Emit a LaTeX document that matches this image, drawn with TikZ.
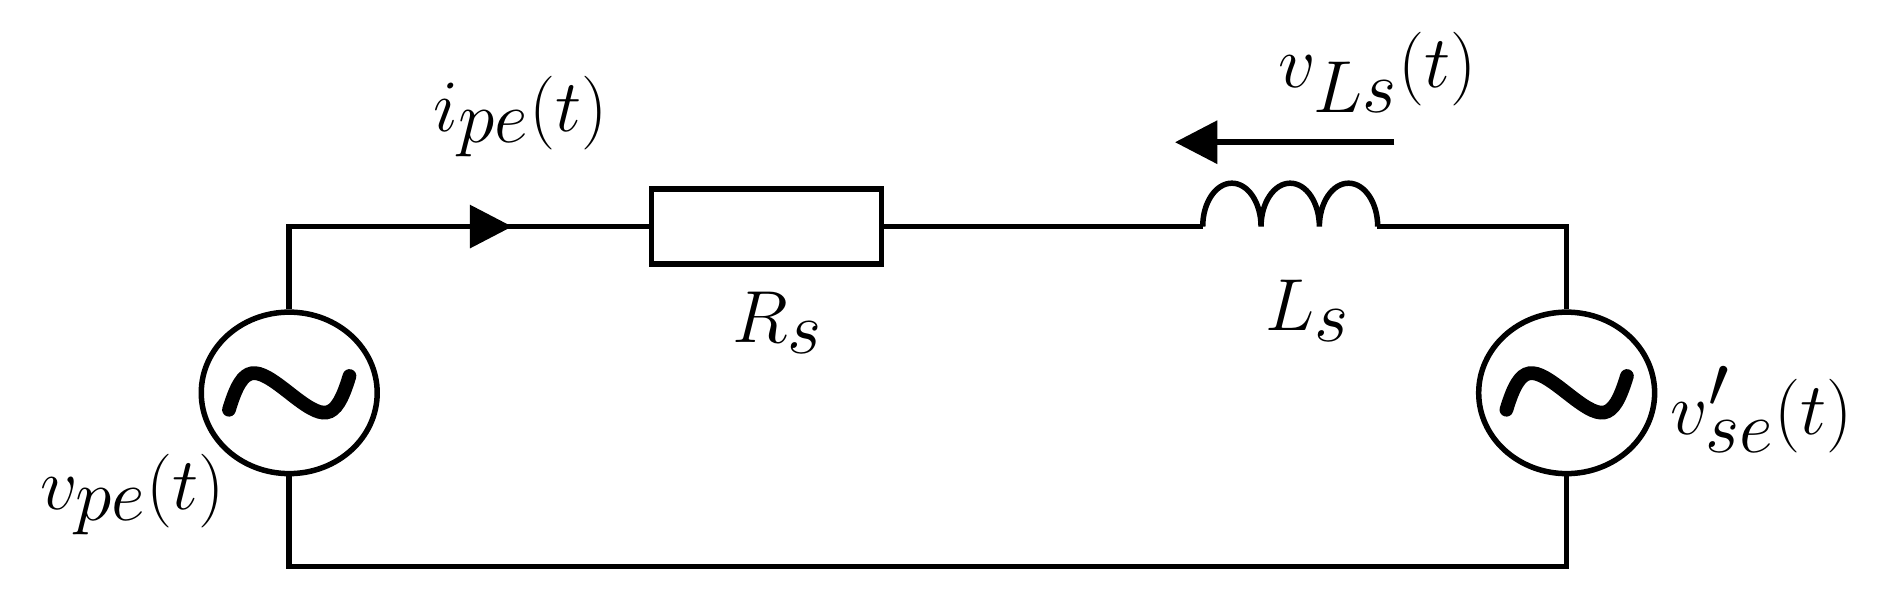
\documentclass[tikz,border=0pt]{standalone}
\usetikzlibrary{arrows.meta,shapes.geometric}
\begin{document}
\begin{tikzpicture}[x=0.02cm,y=-0.02cm,line width=2.6pt,
  lbl/.style={inner sep=0pt,scale=1.4,font=\fontsize{34}{40}\selectfont},
  src/.style={draw,ellipse,minimum width=146*0.02cm,minimum height=134*0.02cm,inner sep=0pt},
  tri/.style={-{Triangle[length=20pt,width=20pt]}}]
\useasboundingbox (0,0) rectangle (1560,501);
\node[src] (S1) at (240,326) {};
\node[src] (S2) at (1300,326) {};
\node[draw,minimum width=191*0.02cm,minimum height=62*0.02cm,inner sep=0pt] (R) at (636,188) {};
\coordinate (TL) at (240,188);
\coordinate (TR) at (1300,188);
\coordinate (BL) at (240,470);
\coordinate (BR) at (1300,470);
\coordinate (A1) at (330,188);
\coordinate (A2) at (425,188);
\coordinate (L1) at (998,188);
\coordinate (L2) at (1143,188);
\draw (S1.north) -- (TL) -- (R.west);
\draw[tri] (A1) -- (A2);
\draw (R.east) -- (L1);
\draw (L1) arc[start angle=180,end angle=360,x radius=24.2,y radius=36]
  arc[start angle=180,end angle=360,x radius=24.2,y radius=36]
  arc[start angle=180,end angle=360,x radius=24.2,y radius=36];
\draw (L2) -- (TR) -- (S2.north);
\draw (S1.south) -- (BL) -- (BR) -- (S2.south);
\foreach \s in {S1,S2}{
  \draw[line width=6.5pt,line cap=round] ([shift={(-50,14)}]\s.center)
    .. controls +(12,-40) and +(-28,-22) .. (\s.center)
    .. controls +(28,22) and +(-12,40) .. ([shift={(50,-14)}]\s.center);
}
\coordinate (V1) at (1157,118);
\coordinate (V2) at (975,118);
\draw[tri] (V1) -- (V2);
\node[lbl] (ipe) at (432,97) {$i_{pe}(t)$};
\node[lbl] (Rs) at (645,268) {$R_s$};
\node[lbl] (Ls) at (1085,258) {$L_s$};
\node[lbl] (vLs) at (1143,60) {$v_{Ls}(t)$};
\node[lbl] (vpe) at (110,410) {$v_{pe}(t)$};
\node[lbl] (vse) at (1462,340) {$v'_{se}(t)$};
\end{tikzpicture}
\end{document}
